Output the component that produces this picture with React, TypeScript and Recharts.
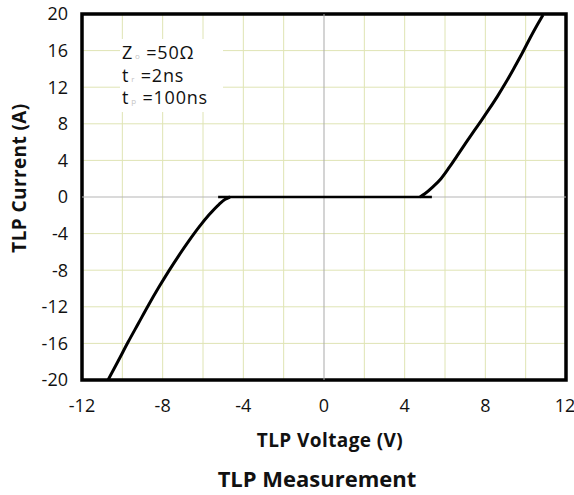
import React from "react";
import { LineChart, Line, XAxis, YAxis, CartesianGrid, ReferenceLine, ReferenceArea } from "recharts";

const xTicks = [-12, -8, -4, 0, 4, 8, 12];
const yTicks = [-20, -16, -12, -8, -4, 0, 4, 8, 12, 16, 20];
const gridV = [-10, -8, -6, -4, -2, 2, 4, 6, 8, 10];
const gridH = [-16, -12, -8, -4, 4, 8, 12, 16];

// Negative branch (V, A)
const leftV = [-10.71, -10.2, -9.7, -9.2, -8.7, -8.2, -7.7, -7.2, -6.7, -6.2, -5.7, -5.2, -4.9, -4.66];
const leftI = [-20, -17.9, -15.8, -13.8, -11.8, -9.9, -8.1, -6.4, -4.8, -3.3, -1.95, -0.8, -0.25, 0];
// Positive branch (V, A)
const rightV = [4.76, 5.0, 5.4, 5.8, 6.2, 6.6, 7.0, 7.4, 7.8, 8.2, 8.6, 9.0, 9.4, 9.8, 10.2, 10.6, 10.86];
const rightI = [0, 0.35, 1.1, 2.0, 3.2, 4.5, 5.8, 7.1, 8.35, 9.65, 11.0, 12.45, 14.0, 15.6, 17.3, 18.9, 19.9];
// Hold-off segment at 0 A
const flatV = [-5.25, 5.35];
const flatI = [0, 0];

const annotation = [
  { main: "Z", sub: "o", rest: " =50Ω" },
  { main: "t", sub: "r", rest: " =2ns" },
  { main: "t", sub: "p", rest: " =100ns" },
];

const toData = (v: number[], i: number[]) => v.map((x, k) => ({ v: x, i: i[k] }));
const leftData = toData(leftV, leftI);
const rightData = toData(rightV, rightI);
const flatData = toData(flatV, flatI);

const FONT = "'Open Sans', 'Noto Sans', sans-serif";

export default function App() {
  return (
    <div style={{ position: "absolute", left: 0, top: 0, width: 574, height: 495, background: "#fff", fontFamily: FONT }}>
      <LineChart width={574} height={495} margin={{ top: 14, right: 8, bottom: 85, left: 0 }}>
        <CartesianGrid stroke="#dfe4b4" strokeWidth={1} verticalValues={gridV} horizontalValues={gridH} />
        <XAxis
          dataKey="v"
          type="number"
          domain={[-12, 12]}
          ticks={xTicks}
          axisLine={false}
          tickLine={false}
          tickSize={0}
          tickMargin={19}
          height={30}
          allowDataOverflow
          tick={{ fill: "#111", fontSize: 18, fontFamily: FONT }}
        />
        <YAxis
          type="number"
          domain={[-20, 20]}
          ticks={yTicks}
          axisLine={false}
          tickLine={false}
          tickSize={0}
          tickMargin={14}
          width={82}
          allowDataOverflow
          tick={{ fill: "#111", fontSize: 18, fontFamily: FONT }}
        />
        <ReferenceLine x={0} stroke="#a9a9a9" strokeWidth={1} />
        <ReferenceLine y={0} stroke="#b5b5b5" strokeWidth={1} />
        <Line data={flatData} dataKey="i" type="linear" stroke="#000" strokeWidth={2.5} dot={false} isAnimationActive={false} />
        <Line data={leftData} dataKey="i" type="monotone" stroke="#000" strokeWidth={3} dot={false} isAnimationActive={false} />
        <Line data={rightData} dataKey="i" type="monotone" stroke="#000" strokeWidth={3} dot={false} isAnimationActive={false} />
        <ReferenceArea x1={-12} x2={12} y1={-20} y2={20} fill="none" stroke="#000" strokeWidth={3.5} ifOverflow="visible" />
      </LineChart>

      {/* annotation box */}
      <div style={{ position: "absolute", left: 120, top: 39, width: 103, height: 73, background: "#fff" }} />
      {annotation.map((a, k) => (
        <div
          key={k}
          style={{
            position: "absolute",
            left: 122,
            top: 52 + k * 22.5 - 12,
            height: 24,
            lineHeight: "24px",
            fontSize: 18,
            letterSpacing: 0.8,
            color: "#111",
            whiteSpace: "nowrap",
          }}
        >
          {a.main}
          <span style={{ fontSize: 8, color: "#c4c4c4", marginLeft: 2 }}>{a.sub}</span>
          {a.rest}
        </div>
      ))}

      {/* y axis label */}
      <div
        style={{
          position: "absolute",
          left: 19 - 100,
          top: 178 - 12,
          width: 200,
          height: 24,
          lineHeight: "24px",
          textAlign: "center",
          fontWeight: 700,
          fontSize: 19,
          letterSpacing: 0.4,
          color: "#111",
          transform: "rotate(-90deg)",
        }}
      >
        TLP Current (A)
      </div>

      {/* x axis label */}
      <div style={{ position: "absolute", left: 230, top: 427, width: 200, textAlign: "center", fontWeight: 700, fontSize: 19, letterSpacing: 0.4, lineHeight: "26px", color: "#111" }}>
        TLP Voltage (V)
      </div>

      {/* title */}
      <div style={{ position: "absolute", left: 167, top: 462, width: 300, textAlign: "center", fontWeight: 700, fontSize: 22, lineHeight: "32px", color: "#111" }}>
        TLP Measurement
      </div>
    </div>
  );
}
